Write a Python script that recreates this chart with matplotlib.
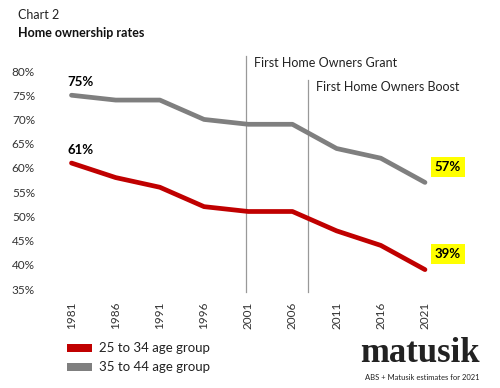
import matplotlib
matplotlib.use("Agg")
import matplotlib.pyplot as plt
from matplotlib.patches import Rectangle

years = [1981, 1986, 1991, 1996, 2001, 2006, 2011, 2016, 2021]
age_25_34 = [61, 58, 56, 52, 51, 51, 47, 44, 39]
age_35_44 = [75, 74, 74, 70, 69, 69, 64, 62, 57]
yticks = [35, 40, 45, 50, 55, 60, 65, 70, 75, 80]
events = [("First Home Owners Grant", 2000.8, 83.1), ("First Home Owners Boost", 2007.8, 78.1)]

RED = "#C00000"
GREY = "#7F7F7F"
plt.rcParams['font.family'] = ['Lato', 'DejaVu Sans']

W, H = 500, 388
fig = plt.figure(figsize=(W/100, H/100), dpi=100)
ax = fig.add_axes([60/W, 1-289/H, (440-60)/W, (289-71)/H])
ax.set_xlim(1979.7, 2022.7)
ax.set_ylim(35, 80)

ax.plot(years, age_35_44, color=GREY, lw=3.4, solid_capstyle='round', zorder=3)
ax.plot(years, age_25_34, color=RED, lw=3.4, solid_capstyle='round', zorder=3)

for label, x, top in events:
    ax.plot([x, x], [34.3, top], color="#999999", lw=0.9, clip_on=False, zorder=2)
    ax.text(x + 0.9, top - 0.2, label, fontsize=9, color="#222222", va='top', ha='left', clip_on=False)

ax.text(years[0] - 0.45, age_35_44[0] + 1.4, f"{age_35_44[0]}%", fontsize=9.5, fontweight='bold', ha='left', va='bottom')
ax.text(years[0] - 0.45, age_25_34[0] + 1.4, f"{age_25_34[0]}%", fontsize=9.5, fontweight='bold', ha='left', va='bottom')
for vals in (age_35_44, age_25_34):
    ax.text(years[-1] + 1.1, vals[-1] + 3.2, f"{vals[-1]}%", fontsize=9.5, fontweight='bold', ha='left', va='center',
            bbox=dict(boxstyle='square,pad=0.3', fc='#FFFF00', ec='none'), clip_on=False)

ax.set_yticks(yticks)
ax.set_yticklabels([f"{v}%" for v in yticks], fontsize=8.5, color="#333333")
ax.set_xticks(years)
ax.set_xticklabels([str(y) for y in years], rotation=90, fontsize=8.5, color="#333333")
ax.tick_params(axis='both', length=0)
ax.tick_params(axis='y', pad=18)
ax.tick_params(axis='x', pad=9)
for s in ax.spines.values():
    s.set_visible(False)

fig.text(18/W, 1-15/H, "Chart 2", fontsize=9, va='center', ha='left', color="#222222")
fig.text(18/W, 1-33/H, "Home ownership rates", fontsize=9, fontweight='bold', va='center', ha='left', color="#111111")

for i, (lab, col) in enumerate([("25 to 34 age group", RED), ("35 to 44 age group", GREY)]):
    yc = 348 + i * 19
    fig.patches.append(Rectangle((67/W, 1-(yc+4)/H), 25/W, 8/H, transform=fig.transFigure, fc=col, ec='none'))
    fig.text(99/W, 1-yc/H, lab, fontsize=9.5, va='center', ha='left', color="#222222")

fig.text(480/W, 1-353/H, "matusik", fontsize=25, fontweight='bold', family=['Liberation Serif'], ha='right', va='center', color="#222222")
fig.text(480/W, 1-377/H, "ABS + Matusik estimates for 2021", fontsize=5.5, ha='right', va='center', color="#222222")

fig.savefig("out.png", dpi=100)
